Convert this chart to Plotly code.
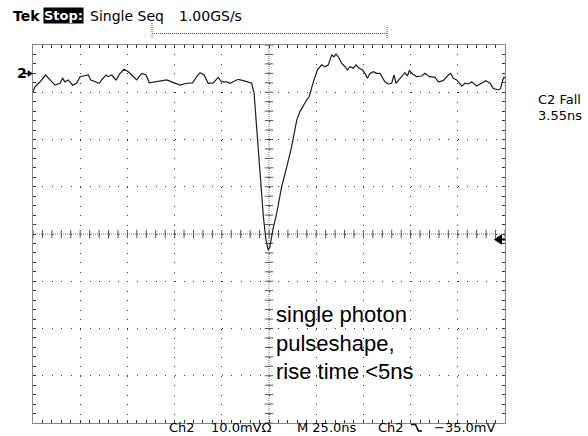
import numpy as np
import plotly.graph_objects as go

# ---- data (time in ns relative to screen centre, voltage in mV relative to Ch2 ground) ----
t_ns = [-125.0, -123.9, -121.7, -118.3, -116.0, -113.3, -110.7, -109.3, -108.1, -106.3,
        -104.0, -101.9, -100.1, -97.5, -95.7, -94.4, -92.2, -89.9, -88.6, -86.3,
        -85.1, -83.3, -81.0, -78.9, -76.8, -74.5, -72.2, -70.1, -67.4, -65.1,
        -63.4, -60.4, -57.7, -54.2, -51.5, -47.1, -43.6, -40.4, -38.3, -36.5,
        -34.4, -32.2, -29.5, -26.9, -25.1, -22.4, -20.7, -18.9, -16.3, -13.6,
        -11.0, -9.2, -7.9, -6.9, -5.7, -4.4, -3.0, -1.6, -0.4, 0.5,
        2.0, 4.1, 6.7, 9.4, 12.0, 14.7, 16.4, 20.0, 21.3, 23.5,
        25.6, 27.9, 29.7, 31.4, 33.2, 34.4, 35.5, 36.7, 38.5, 40.3,
        41.5, 42.9, 44.7, 46.1, 47.8, 49.6, 50.8, 52.1, 53.5, 55.2,
        57.0, 58.8, 61.4, 63.2, 65.0, 66.2, 67.3, 69.4, 72.0, 73.3,
        74.3, 76.1, 78.2, 80.9, 82.6, 84.9, 87.9, 89.7, 92.3, 95.0,
        96.2, 97.6, 99.4, 102.1, 103.8, 105.6, 107.4, 110.0, 112.7, 114.9,
        117.1, 118.8, 121.5, 122.7, 123.8, 124.5, 125.0]
v_mV = [-3.9, -2.8, -2.0, -0.35, -1.4, -2.5, -2.1, -1.05, -1.8, -1.4,
        -2.5, -2.1, -0.7, -0.56, -0.35, -1.4, -1.8, -2.1, -1.4, -0.35,
        -0.7, -0.35, -1.4, 0.0, 0.86, 0.35, -0.56, -1.4, 0.0, -0.35,
        -2.0, -1.8, -1.55, -1.4, -1.8, -2.5, -2.1, -2.0, -0.7, 0.14,
        -0.35, -2.1, -2.0, -0.84, -1.8, -1.8, -2.1, -1.8, -1.26, -1.55,
        -1.8, -2.1, -4.2, -9.2, -16.2, -23.3, -30.3, -35.3, -37.4, -36.7,
        -33.2, -29.6, -24.0, -19.8, -15.5, -9.9, -8.1, -5.6, -4.9, -1.8,
        0.7, 1.8, 1.4, 1.8, 3.9, 3.5, 4.1, 3.5, 2.1, 1.4,
        0.7, 1.4, 1.1, 1.8, 1.1, 0.7, 0.0, -1.05, 0.0, 0.35,
        0.0, 0.0, -1.8, -2.25, -2.1, -0.35, -2.1, -1.05, 0.14, -0.56,
        0.56, -0.14, -0.7, -0.56, 0.0, -0.7, -0.84, -1.8, -1.55, -0.35,
        0.0, -1.05, -1.4, -2.7, -2.1, -2.25, -1.8, -2.7, -2.1, -1.55,
        -2.1, -3.2, -3.5, -3.2, -1.4, -0.84, -1.05]

time_per_div = 25.0      # ns/div
volts_per_div = 10.0     # mV/div
ground_offset = 34.0     # mV, ground marker above screen centre
trigger_level = -35.0    # mV

header_labels = ["Tek", "Stop:", "Single Seq", "1.00GS/s"]
footer_labels = ["Ch2", "10.0mVΩ", "M 25.0ns", "Ch2", "−35.0mV"]
meas_labels = ["C2 Fall", "3.55ns"]
note_lines = ["single photon", "pulseshape,", "rise time &lt;5ns"]

# ---- layout geometry ----
W, H = 588, 436
L, R, T, B = 33, 505, 45, 423


def X(px):
    return (px - L) / (R - L)


def Y(py):
    return (B - py) / (B - T)


xr = [-5 * time_per_div, 5 * time_per_div]
yc = -ground_offset
yr = [yc - 4 * volts_per_div, yc + 4 * volts_per_div]
minor_x = time_per_div / 5
minor_y = volts_per_div / 5
dot_x = (R - L) / 50
dot_y = (B - T) / 40

fig = go.Figure()

# centre-line ticks
cx = np.arange(xr[0], xr[1] + 1e-9, minor_x)
cy = np.arange(yr[0], yr[1] + 1e-9, minor_y)
fig.add_trace(go.Scatter(x=cx, y=[yc] * len(cx), mode="markers", hoverinfo="skip",
                         marker=dict(symbol="line-ns", size=6, line=dict(width=1, color="#555")),
                         showlegend=False))
fig.add_trace(go.Scatter(x=[0] * len(cy), y=cy, mode="markers", hoverinfo="skip",
                         marker=dict(symbol="line-ew", size=6, line=dict(width=1, color="#555")),
                         showlegend=False))

# waveform
fig.add_trace(go.Scatter(x=t_ns, y=v_mV, mode="lines",
                         line=dict(color="#1e1e1e", width=1.2), showlegend=False))

shapes = [
    dict(type="line", xref="x", yref="y", x0=xr[0], x1=xr[1], y0=yc, y1=yc,
         line=dict(color="#777", width=1, dash="1px,1px"), layer="below"),
    dict(type="line", xref="x", yref="y", x0=0, x1=0, y0=yr[0], y1=yr[1],
         line=dict(color="#777", width=1, dash="1px,1px"), layer="below"),
    # record bracket at top
    dict(type="line", xref="paper", yref="paper", x0=X(152), x1=X(387), y0=Y(33.5), y1=Y(33.5),
         line=dict(color="#555", width=1, dash="1px,1px")),
    dict(type="line", xref="paper", yref="paper", x0=X(152), x1=X(152), y0=Y(23), y1=Y(39),
         line=dict(color="#555", width=1, dash="1px,1px")),
    dict(type="line", xref="paper", yref="paper", x0=X(387), x1=X(387), y0=Y(27), y1=Y(39),
         line=dict(color="#555", width=1, dash="1px,1px")),
    # trigger level arrow on right edge
    dict(type="path", xref="paper", yref="paper",
         path=f"M {X(494.5)},{Y(239.5)} L {X(501.5)},{Y(235)} L {X(501.5)},{Y(244)} Z",
         fillcolor="black", line=dict(color="black", width=1)),
    dict(type="line", xref="paper", yref="paper", x0=X(500), x1=X(505), y0=Y(239.5), y1=Y(239.5),
         line=dict(color="black", width=2)),
    # ground marker arrow
    dict(type="line", xref="paper", yref="paper", x0=X(24), x1=X(29), y0=Y(73.5), y1=Y(73.5),
         line=dict(color="black", width=1.5)),
    dict(type="path", xref="paper", yref="paper",
         path=f"M {X(32.5)},{Y(73.5)} L {X(28)},{Y(70.5)} L {X(28)},{Y(76.5)} Z",
         fillcolor="black", line=dict(color="black", width=0.5)),
    # falling-edge glyph in footer
    dict(type="path", xref="paper", yref="paper",
         path=f"M {X(411)},{Y(424.5)} L {X(415.5)},{Y(424.5)} L {X(418.5)},{Y(431)} L {X(422)},{Y(431)}",
         line=dict(color="black", width=1.6)),
]

dv = "DejaVu Sans"
ann = []
# header
ann.append(dict(x=X(11), y=Y(16), text="<b>" + header_labels[0] + "</b>",
                font=dict(family=dv, size=14, color="black")))
ann.append(dict(x=X(42.5), y=Y(16), text="<b>" + header_labels[1] + "</b>",
                bgcolor="black", borderpad=0, font=dict(family=dv, size=13, color="white")))
ann.append(dict(x=X(88), y=Y(16), text=header_labels[2],
                font=dict(family=dv, size=14, color="black")))
ann.append(dict(x=X(177), y=Y(16), text=header_labels[3],
                font=dict(family=dv, size=14, color="black")))
# footer
for px, lab in zip([167, 209, 295, 376, 432], footer_labels):
    ann.append(dict(x=X(px), y=Y(427.5), text=lab,
                    font=dict(family=dv, size=13, color="black")))
# measurement
ann.append(dict(x=X(536), y=Y(99.5), text=meas_labels[0],
                font=dict(family=dv, size=13, color="black")))
ann.append(dict(x=X(536), y=Y(115.5), text=meas_labels[1],
                font=dict(family=dv, size=13, color="black")))
# ground marker label
ann.append(dict(x=X(14.5), y=Y(73.5), text="<b>2</b>",
                font=dict(family=dv, size=14, color="black")))
# note
ann.append(dict(x=X(274), y=Y(343), text="<br>".join(note_lines), align="left",
                font=dict(family="Liberation Sans", size=22, color="black")))
for a in ann:
    a.setdefault("xref", "paper")
    a.setdefault("yref", "paper")
    a.setdefault("xanchor", "left")
    a.setdefault("yanchor", "middle")
    a.setdefault("showarrow", False)

axis_common = dict(showticklabels=False, zeroline=False, showline=True, linecolor="#888",
                   linewidth=1, mirror="ticks", ticks="inside", ticklen=3, tickcolor="#333",
                   showgrid=True, gridcolor="#333", gridwidth=1)

fig.update_layout(
    width=W, height=H,
    margin=dict(l=L, r=W - R, t=T, b=H - B, pad=0),
    paper_bgcolor="white", plot_bgcolor="white",
    xaxis=dict(range=xr, dtick=time_per_div, tick0=0, griddash=f"1px,{dot_y - 1:.2f}px",
               minor=dict(dtick=minor_x, ticks="inside", ticklen=3, tickcolor="#333", showgrid=False),
               **axis_common),
    yaxis=dict(range=yr, dtick=volts_per_div, tick0=yc, griddash=f"1px,{dot_x - 1:.2f}px",
               minor=dict(dtick=minor_y, ticks="inside", ticklen=3, tickcolor="#333", showgrid=False),
               **axis_common),
    shapes=shapes, annotations=ann,
)

fig.write_html("out.html", config={"displayModeBar": False},
               post_script="document.body.style.margin='0';document.body.style.overflow='hidden';")
